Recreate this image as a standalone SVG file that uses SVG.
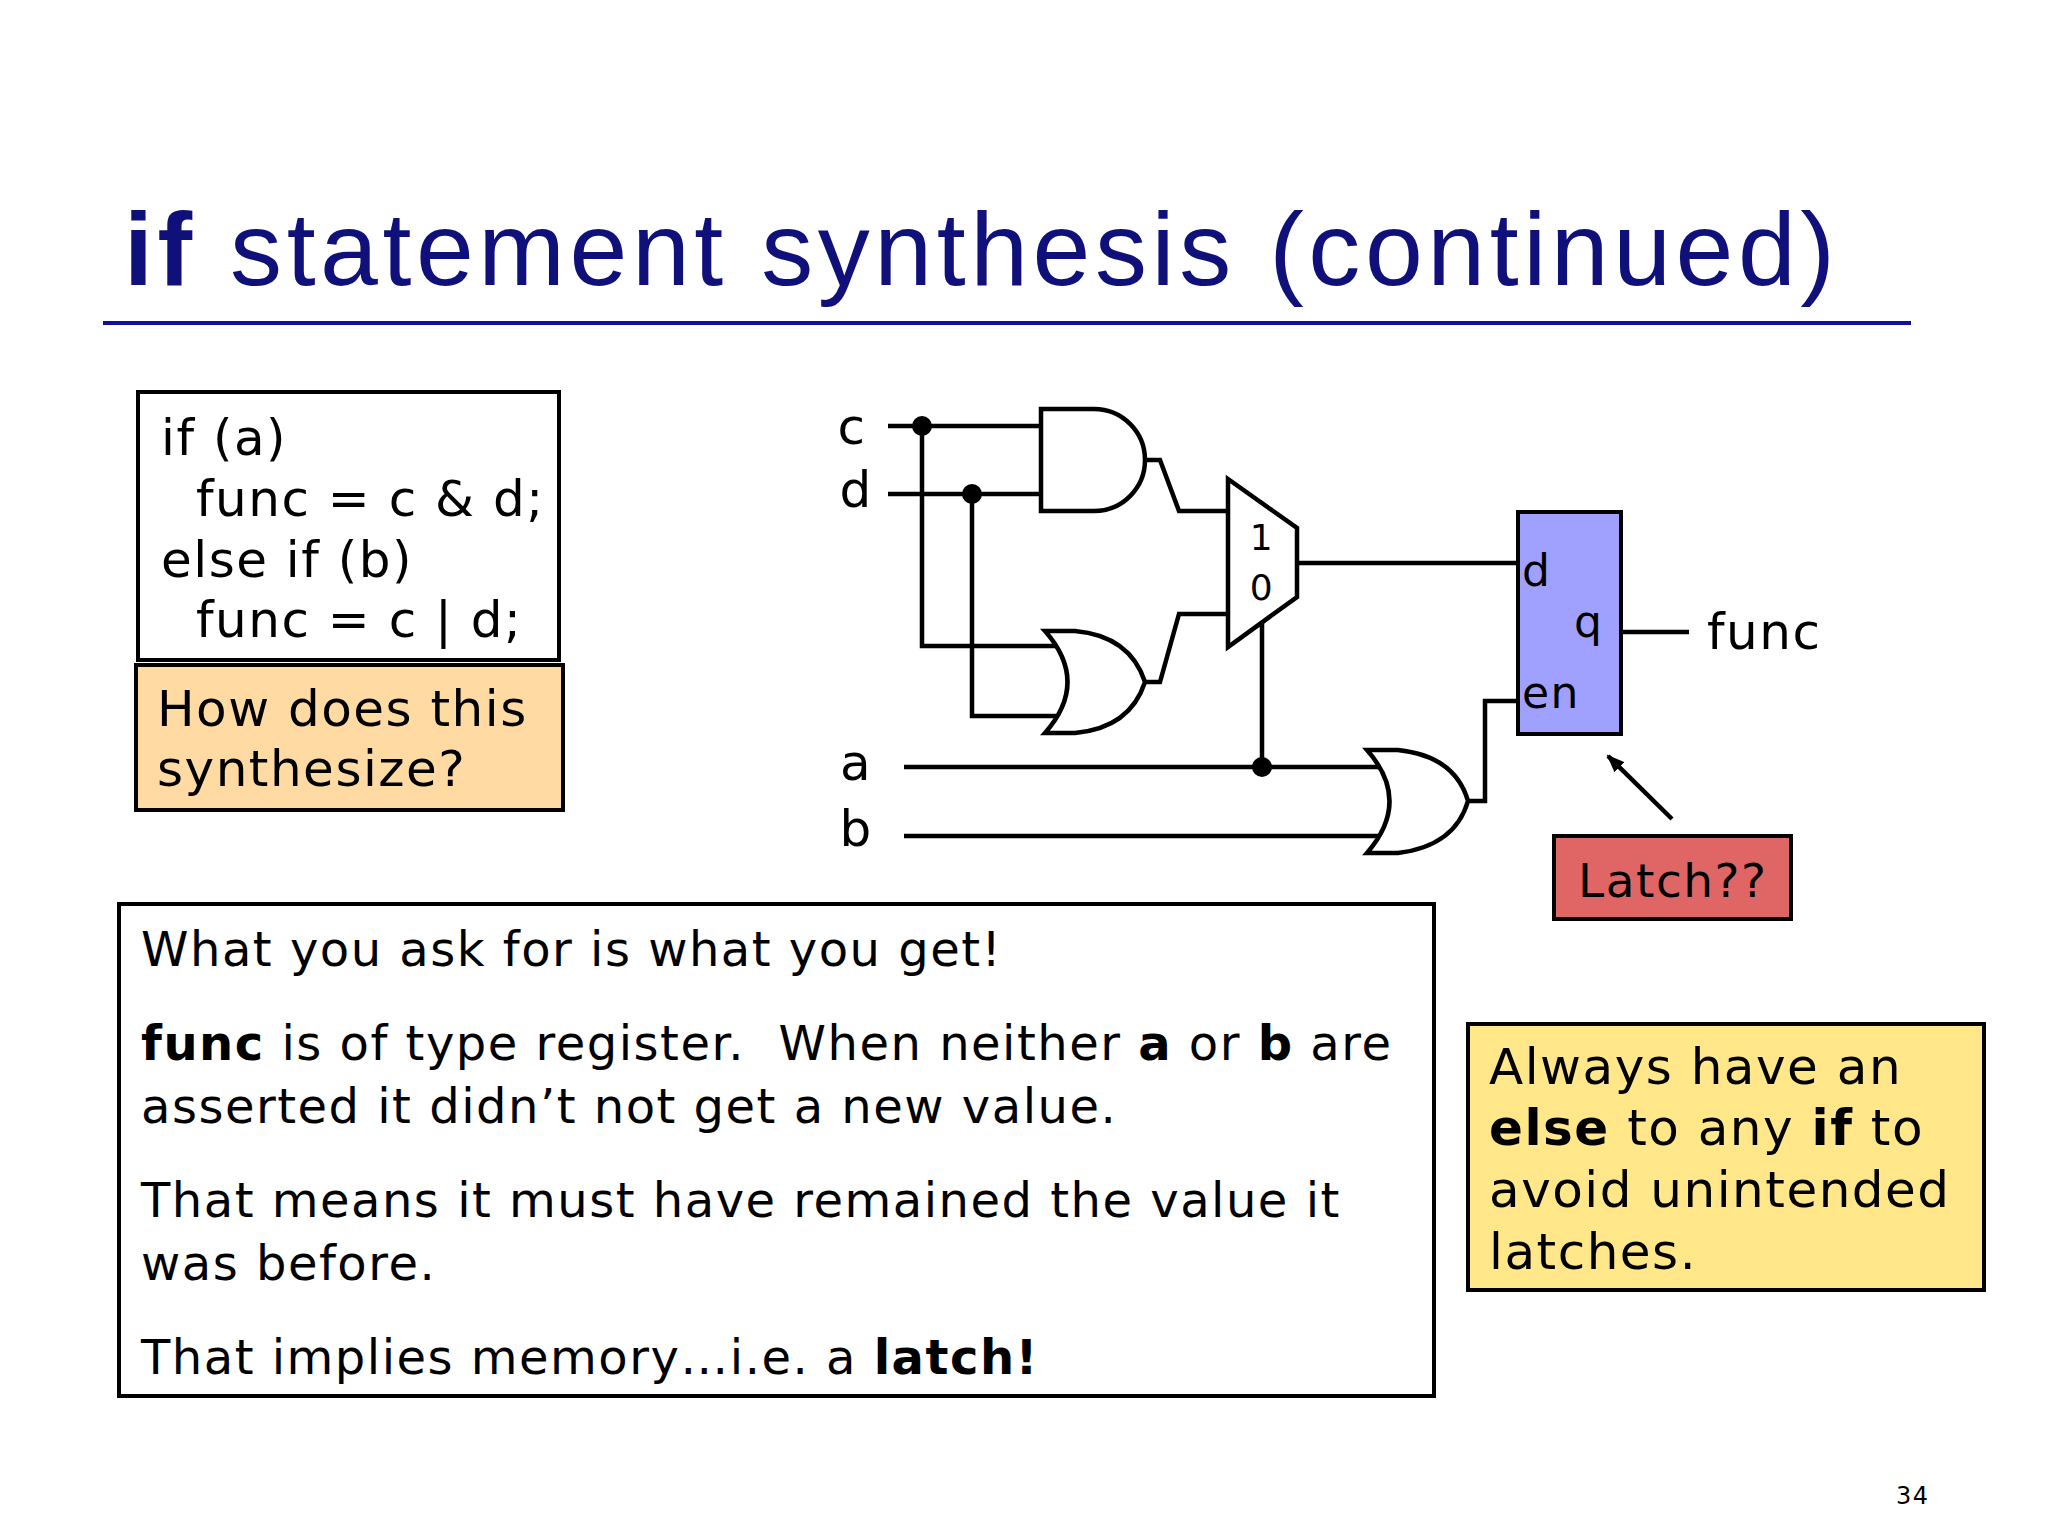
<svg xmlns="http://www.w3.org/2000/svg" width="2048" height="1536" viewBox="0 0 2048 1536">
<defs>
<style>
.t{font-family:"DejaVu Sans","Verdana",sans-serif;fill:#000;letter-spacing:1.5px}
.w{fill:none;stroke:#000;stroke-width:4.5}
.g{fill:#fff;stroke:#000;stroke-width:4.5}
.box{stroke:#000;stroke-width:4}
</style>
<marker id="ah" markerWidth="18" markerHeight="14" refX="16" refY="7" orient="auto" markerUnits="userSpaceOnUse"><path d="M0,0 L18,7 L0,14 Z" fill="#000"/></marker>
</defs>
<rect width="2048" height="1536" fill="#fff"/>
<g id="title">
<text x="124" y="285" font-family="Liberation Sans, Arial, sans-serif" font-size="104" fill="#10107A" textLength="1711" lengthAdjust="spacing"><tspan font-weight="bold">if</tspan> statement synthesis (continued)</text>
<line x1="103" y1="323" x2="1911" y2="323" stroke="#1010A0" stroke-width="4"/>
</g>
<g id="code">
<rect x="138" y="392" width="421" height="268" fill="#fff" class="box"/>
<text class="t" font-size="50" xml:space="preserve"><tspan x="161" y="455">if (a)</tspan><tspan x="196" y="516">func = c &amp; d;</tspan><tspan x="161" y="577">else if (b)</tspan><tspan x="196" y="637">func = c | d;</tspan></text>
</g>
<g id="question">
<rect x="136" y="665" width="427" height="145" fill="#FFDBA3" class="box"/>
<text class="t" font-size="50"><tspan x="157" y="726">How does this</tspan><tspan x="157" y="786">synthesize?</tspan></text>
</g>
<g id="explain">
<rect x="119" y="904" width="1315" height="492" fill="#fff" class="box"/>
<text class="t" font-size="48" xml:space="preserve"><tspan x="141" y="966">What you ask for is what you get!</tspan><tspan x="141" y="1060"><tspan font-weight="bold">func</tspan> is of type register.  When neither <tspan font-weight="bold">a</tspan> or <tspan font-weight="bold">b</tspan> are</tspan><tspan x="141" y="1123">asserted it didn’t not get a new value.</tspan><tspan x="141" y="1217">That means it must have remained the value it</tspan><tspan x="141" y="1280">was before.</tspan><tspan x="141" y="1374">That implies memory…i.e. a <tspan font-weight="bold">latch!</tspan></tspan></text>
</g>
<g id="advice">
<rect x="1468" y="1024" width="516" height="266" fill="#FFE78A" class="box"/>
<text class="t" font-size="50"><tspan x="1489" y="1084">Always have an</tspan><tspan x="1489" y="1145"><tspan font-weight="bold">else</tspan> to any <tspan font-weight="bold">if</tspan> to</tspan><tspan x="1489" y="1207">avoid unintended</tspan><tspan x="1489" y="1269">latches.</tspan></text>
</g>
<g id="connectors">
<path class="w" d="M888,426 H1041 M888,494 H1041 M922,426 V646 H1071 M972,494 V716 H1071"/>
<path class="w" d="M1145,460 H1160 L1179,511 H1228 M1145,682 H1160 L1179,614 H1228"/>
<path class="w" d="M1297,563 H1518 M1262,622 V767"/>
<path class="w" d="M904,767 H1385 M904,836 H1385 M1468,801 H1485 V701 H1518"/>
<path class="w" d="M1621,632 H1689"/>
<path class="w" d="M1672,819 L1608,756" marker-end="url(#ah)"/>
<circle cx="922" cy="426" r="10"/>
<circle cx="972" cy="494" r="10"/>
<circle cx="1262" cy="767" r="10"/>
</g>
<g id="labels">
<text class="t" font-size="50" text-anchor="middle"><tspan x="852" y="444">c</tspan><tspan x="856" y="507">d</tspan><tspan x="856" y="780">a</tspan><tspan x="856" y="846">b</tspan></text>
</g>
<g id="and1"><path class="g" d="M1041,409 H1094 A51,51 0 0 1 1094,511 H1041 Z"/></g>
<g id="or1"><path class="g" d="M1045,631 H1075 Q1130,636 1145,682 Q1130,728 1075,733 H1045 Q1090,682 1045,631 Z"/></g>
<g id="mux">
<path class="g" d="M1228,479 L1297,528 V597 L1228,647 Z"/>
<text class="t" font-size="36" text-anchor="middle"><tspan x="1262" y="550">1</tspan><tspan x="1262" y="600">0</tspan></text>
</g>
<g id="or2"><path class="g" d="M1367,750 H1398 Q1455,756 1468,801 Q1455,846 1398,853 H1367 Q1412,801 1367,750 Z"/></g>
<g id="latch">
<rect x="1518" y="512" width="103" height="222" fill="#A0A0FF" class="box"/>
<text class="t" font-size="44"><tspan x="1522" y="586">d</tspan><tspan x="1574" y="637">q</tspan><tspan x="1522" y="708">en</tspan></text>
<text class="t" font-size="50" x="1707" y="649">func</text>
</g>
<g id="latchq">
<rect x="1554" y="836" width="237" height="83" fill="#E06666" class="box"/>
<text class="t" font-size="47" x="1578" y="897">Latch??</text>
</g>
<text class="t" font-size="24" x="1896" y="1504">34</text>
</svg>
